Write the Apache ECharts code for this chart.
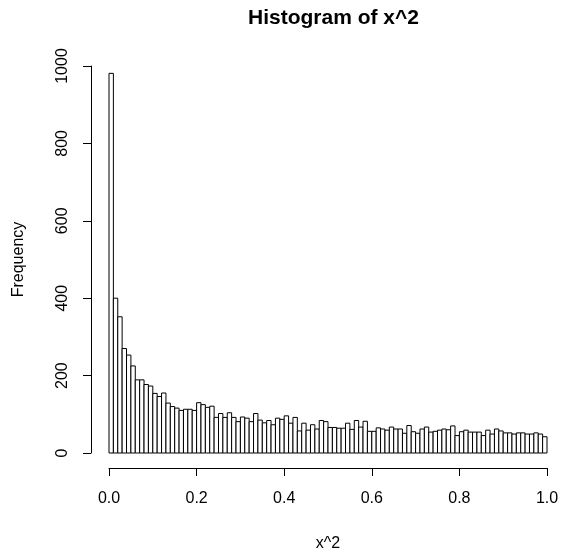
<!DOCTYPE html>
<html>
<head>
<meta charset="utf-8">
<script src="https://cdn.jsdelivr.net/npm/echarts@6/dist/echarts.min.js"></script>
<style>
  html, body { margin: 0; padding: 0; background: #fff; }
  #chart { width: 561px; height: 552px; }
</style>
</head>
<body>
<div id="chart"></div>
<script>
// Histogram bins: start of first break and bin width
const breakStart = 0;
const binWidth = 0.01;
// Counts per bin
const counts = [
  981, 400, 352, 270, 253, 225, 189, 189, 177, 173,
  154, 146, 155, 129, 120, 116, 110, 113, 113, 110,
  130, 125, 118, 121, 92, 102, 92, 104, 92, 81,
  93, 90, 81, 102, 85, 78, 84, 73, 90, 87,
  96, 77, 92, 57, 77, 59, 73, 62, 84, 81,
  66, 66, 64, 64, 77, 61, 84, 67, 82, 56,
  56, 65, 62, 59, 67, 62, 62, 51, 71, 55,
  51, 62, 67, 54, 56, 59, 62, 60, 70, 45,
  55, 59, 54, 54, 54, 45, 59, 49, 62, 57,
  52, 52, 49, 52, 52, 49, 49, 52, 49, 42
];
const xTicks = [0, 0.2, 0.4, 0.6, 0.8, 1.0];
const yTicks = [0, 200, 400, 600, 800, 1000];
const titleText = 'Histogram of x^2';
const xName = 'x^2';
const yName = 'Frequency';

const data = counts.map((c, i) => {
  const a = +(breakStart + i * binWidth).toFixed(4);
  const b = +(breakStart + (i + 1) * binWidth).toFixed(4);
  return [a, b, c];
});

const chart = echarts.init(document.getElementById('chart'));
const font = 'Liberation Sans, Arial, sans-serif';
chart.setOption({
  animation: false,
  backgroundColor: '#fff',
  title: {
    text: titleText,
    left: 243,
    top: 3,
    textStyle: { fontFamily: font, fontSize: 21, fontWeight: 'bold', color: '#000' }
  },
  grid: { left: 109, right: 14, top: 66, bottom: 99, containLabel: false, outerBoundsMode: 'none' },
  xAxis: {
    type: 'value',
    min: xTicks[0], max: xTicks[xTicks.length - 1], interval: 0.2,
    offset: 15,
    name: xName, nameLocation: 'middle', nameGap: 68,
    nameTextStyle: { fontFamily: font, fontSize: 16, color: '#000' },
    axisLine: { show: true, onZero: false, lineStyle: { color: '#000', width: 1 } },
    axisTick: { show: true, inside: false, length: 8, lineStyle: { color: '#000' } },
    axisLabel: { fontFamily: font, fontSize: 16, color: '#000', margin: 23,
      formatter: v => v.toFixed(1) },
    splitLine: { show: false }
  },
  yAxis: {
    type: 'value',
    min: yTicks[0], max: yTicks[yTicks.length - 1], interval: 200,
    offset: 18,
    name: yName, nameLocation: 'middle', nameGap: 64, nameRotate: 90,
    nameTextStyle: { fontFamily: font, fontSize: 16, color: '#000' },
    axisLine: { show: true, onZero: false, lineStyle: { color: '#000', width: 1 } },
    axisTick: { show: true, inside: false, length: 8, lineStyle: { color: '#000' } },
    axisLabel: { fontFamily: font, fontSize: 16, color: '#000', margin: 20, rotate: 90,
      formatter: v => String(v) },
    splitLine: { show: false }
  },
  series: [{
    type: 'custom',
    data: data,
    encode: { x: [0, 1], y: 2 },
    renderItem: function (params, api) {
      const p0 = api.coord([api.value(0), api.value(2)]);
      const p1 = api.coord([api.value(1), 0]);
      return {
        type: 'rect',
        shape: { x: p0[0], y: p0[1], width: p1[0] - p0[0], height: p1[1] - p0[1] },
        style: { fill: '#fff', stroke: '#000', lineWidth: 1 }
      };
    }
  }]
});
</script>
</body>
</html>
